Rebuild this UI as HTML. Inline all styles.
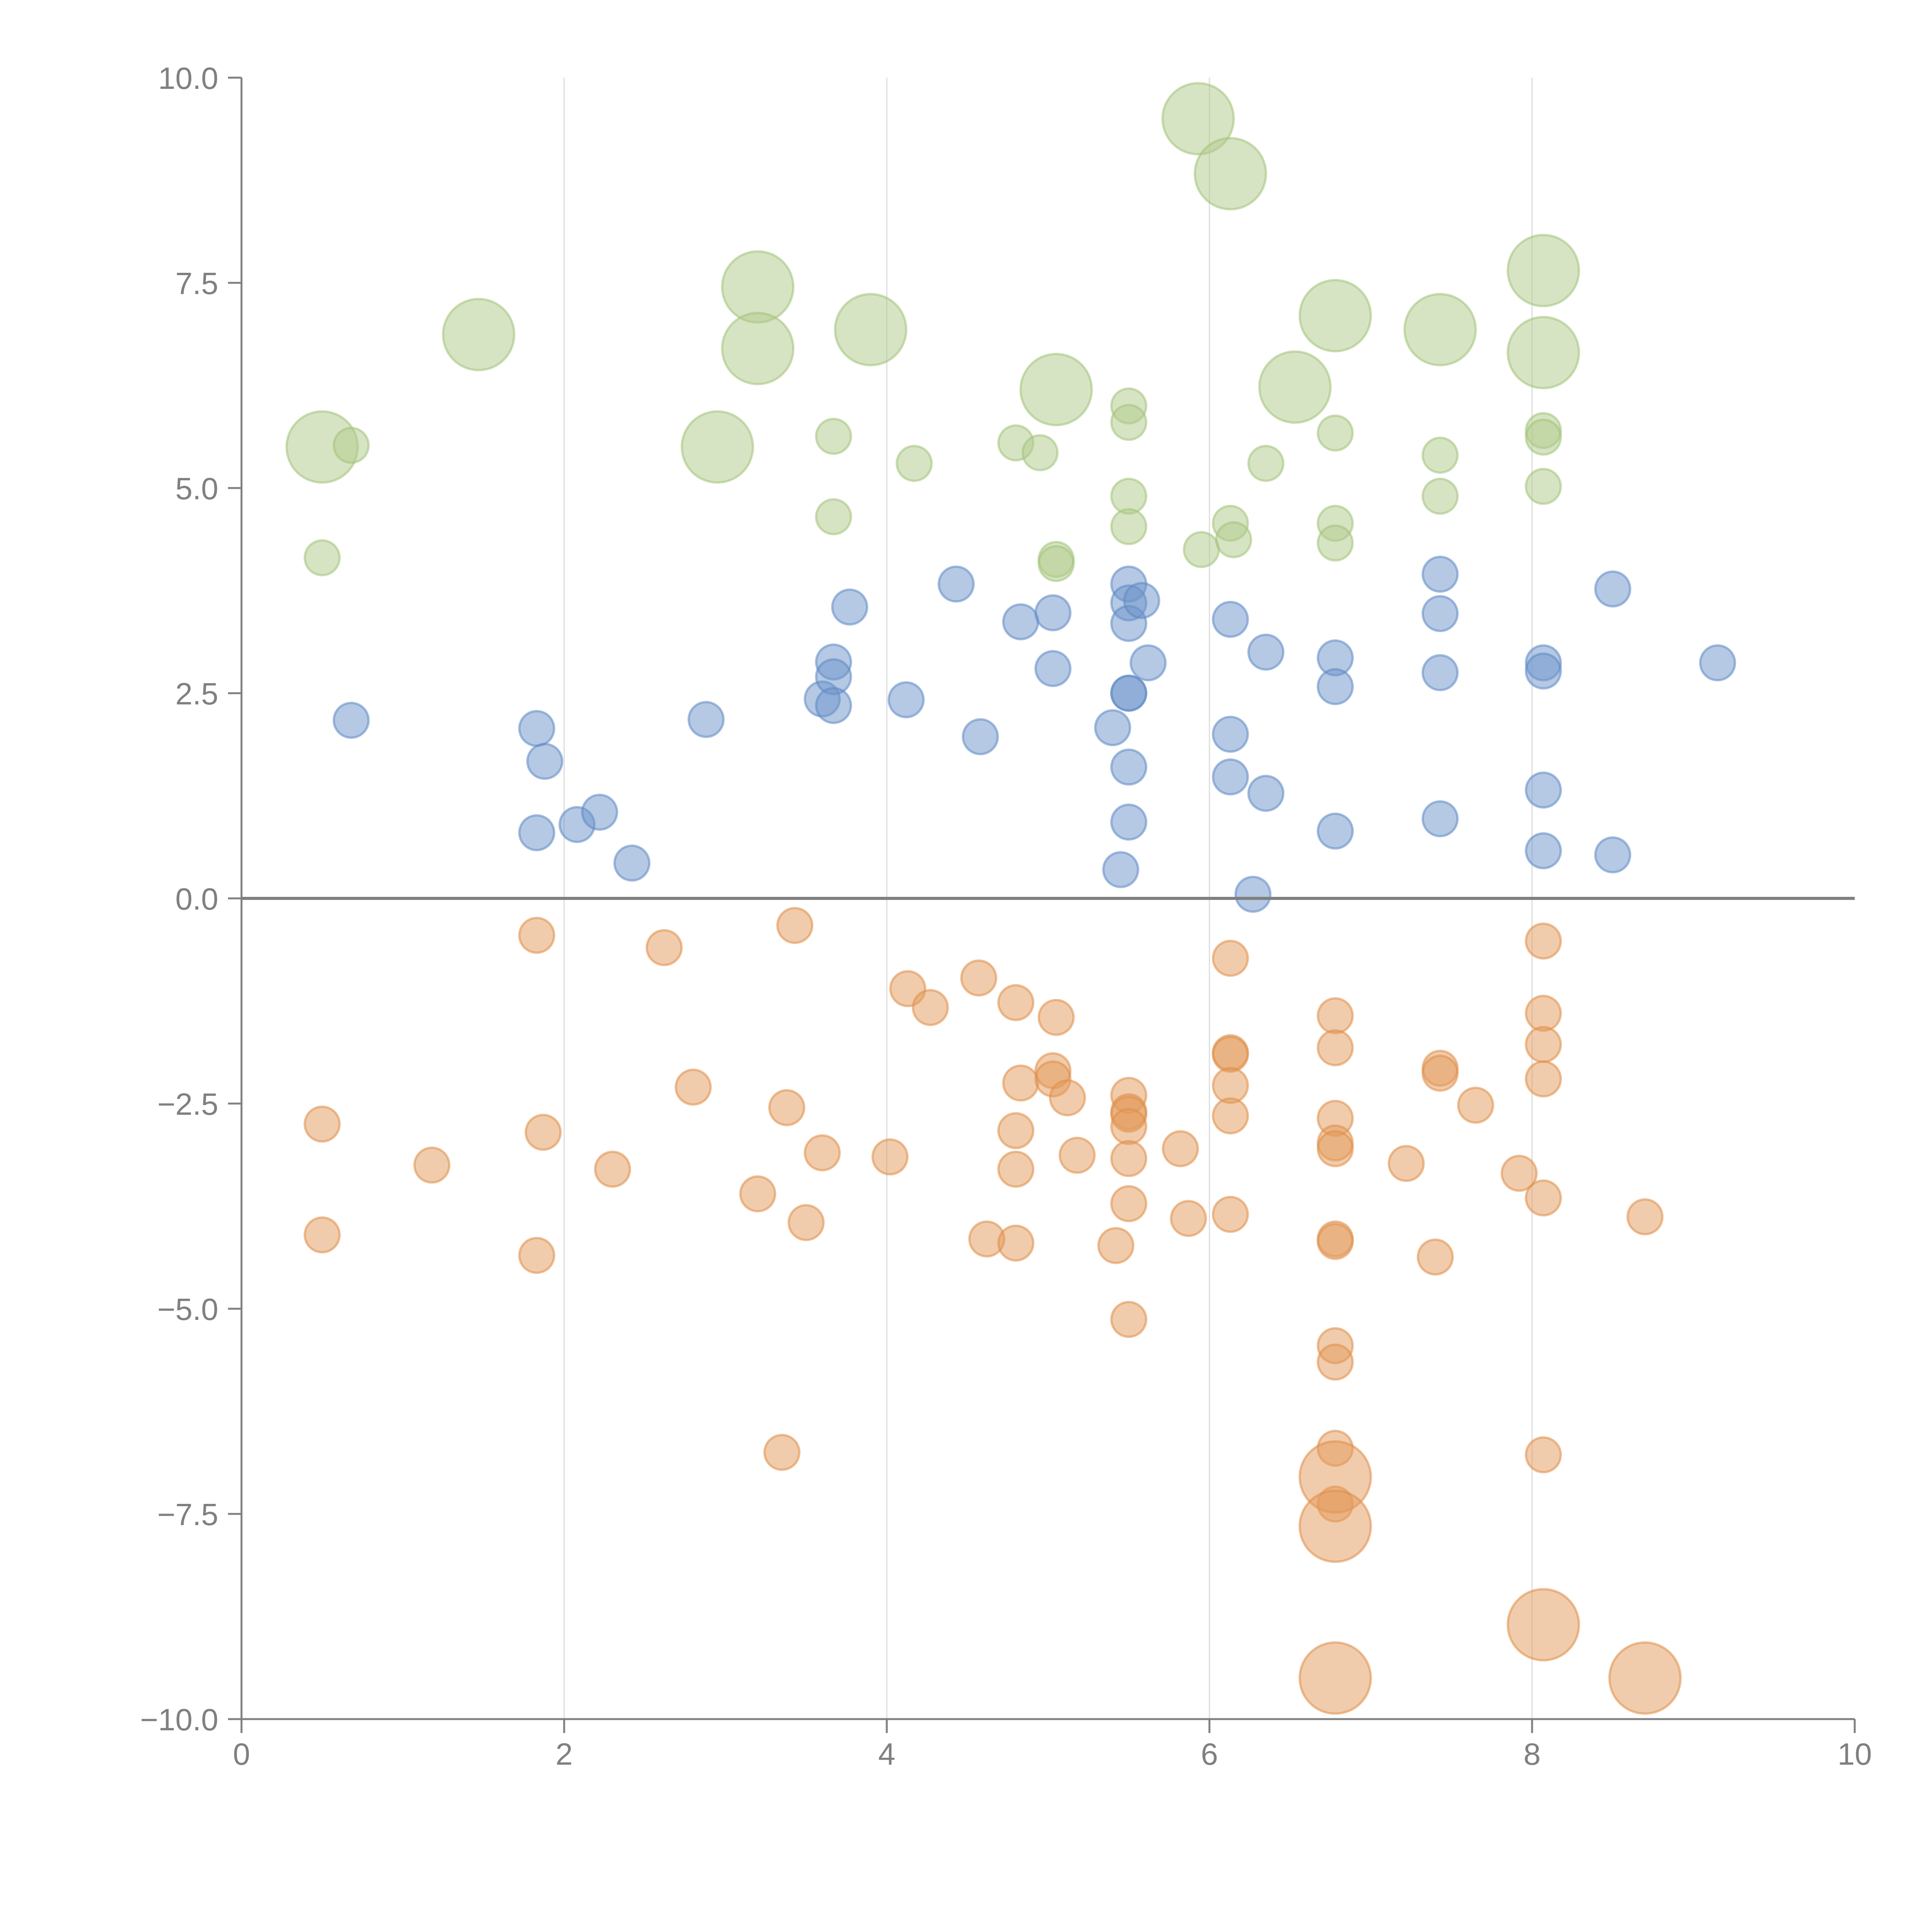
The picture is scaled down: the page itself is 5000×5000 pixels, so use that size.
<!DOCTYPE html>
<html><head><meta charset="utf-8"><style>html,body{margin:0;padding:0;background:#fff}svg{display:block}</style></head>
<body>
<svg id="chart" width="5000" height="5000" viewBox="0 0 5000 5000" xmlns="http://www.w3.org/2000/svg" font-family="Liberation Sans, Arial, sans-serif">
<rect width="5000" height="5000" fill="#fff"/>
<g id="grid"></g>
<g id="marks"></g>
<g id="axes"></g>
</svg>
<script>
const xTicks = [0, 2, 4, 6, 8, 10];
const yTicks = [10, 7.5, 5, 2.5, 0, -2.5, -5, -7.5, -10];
const yTickLabels = ["10.0", "7.5", "5.0", "2.5", "0.0", "\u22122.5", "\u22125.0", "\u22127.5", "\u221210.0"];

const greenBigX = [0.5,1.47,2.95,3.2,3.2,3.9,5.05,5.93,6.13,6.53,6.78,7.43,8.07,8.07];
const greenBigY = [5.5,6.87,5.5,7.45,6.7,6.93,6.2,9.5,8.83,6.23,7.1,6.93,7.65,6.65];
const greenX = [0.5,0.68,3.67,3.67,4.17,4.8,4.95,5.05,5.05,5.5,5.5,5.5,5.5,5.95,6.13,6.15,6.35,6.78,6.78,6.78,7.43,7.43,8.07,8.07,8.07];
const greenY = [4.15,5.52,5.63,4.65,5.3,5.55,5.43,4.13,4.08,6.0,5.8,4.9,4.53,4.25,4.57,4.37,5.3,5.67,4.57,4.33,5.4,4.9,5.7,5.62,5.02];
const blueX = [0.68,1.83,1.88,1.83,2.08,2.22,2.42,2.88,3.6,3.67,3.67,3.67,3.77,4.12,4.43,4.58,4.83,5.03,5.03,5.4,5.45,5.5,5.5,5.5,5.5,5.5,5.5,5.5,5.58,5.62,6.13,6.13,6.13,6.27,6.35,6.35,6.78,6.78,6.78,7.43,7.43,7.43,7.43,8.07,8.07,8.07,8.07,8.5,8.5,9.15];
const blueY = [2.17,2.07,1.67,0.8,0.9,1.05,0.43,2.18,2.43,2.88,2.7,2.35,3.55,2.42,3.83,1.97,3.37,3.48,2.8,2.08,0.35,3.83,3.6,3.35,2.5,2.5,1.6,0.93,3.63,2.87,3.4,2.0,1.48,0.05,3.0,1.28,2.93,2.58,0.82,3.95,3.47,2.75,0.97,2.87,2.77,1.32,0.58,3.77,0.53,2.87];
const orangeX = [0.5,0.5,1.18,1.83,1.87,1.83,2.3,2.62,2.8,3.2,3.38,3.35,3.43,3.5,3.6,4.02,4.13,4.27,4.57,4.62,4.8,4.8,4.8,4.8,4.83,5.03,5.03,5.05,5.12,5.18,5.42,5.5,5.5,5.5,5.5,5.5,5.5,5.5,5.82,5.87,6.13,6.13,6.13,6.13,6.13,6.13,6.78,6.78,6.78,6.78,6.78,6.78,6.78,6.78,6.78,6.78,6.78,7.22,7.43,7.43,7.4,7.65,7.92,8.07,8.07,8.07,8.07,8.07,8.07,8.7];
const orangeY = [-2.75,-4.1,-3.25,-0.45,-2.85,-4.35,-3.3,-0.6,-2.3,-3.6,-2.55,-6.75,-0.33,-3.95,-3.1,-3.15,-1.1,-1.33,-0.97,-4.15,-1.27,-2.83,-3.3,-4.2,-2.25,-2.1,-2.2,-1.45,-2.43,-3.13,-4.23,-2.4,-2.6,-2.63,-2.78,-3.17,-3.72,-5.13,-3.05,-3.9,-0.73,-1.88,-1.9,-2.28,-2.65,-3.85,-1.43,-1.82,-2.68,-2.98,-3.05,-4.15,-4.18,-5.45,-5.65,-6.7,-7.38,-3.23,-2.07,-2.13,-4.37,-2.52,-3.35,-0.52,-1.4,-1.78,-2.2,-3.65,-6.78,-3.88];
const orangeBigX = [6.78,6.78,8.07,6.78,8.7];
const orangeBigY = [-7.05,-7.65,-8.85,-9.5,-9.5];

const X0 = 625, X1 = 4800, Y0 = 4449, Y1 = 201;
function sx(v){ return X0 + (v - 0) / 10 * (X1 - X0); }
function sy(v){ return Y0 - (v + 10) / 20 * (Y0 - Y1); }
const NS = "http://www.w3.org/2000/svg";
function mk(tag, attrs, parent){
  const e = document.createElementNS(NS, tag);
  for (const k in attrs) e.setAttribute(k, attrs[k]);
  parent.appendChild(e);
  return e;
}
const grid = document.getElementById('grid');
const marks = document.getElementById('marks');
const axes = document.getElementById('axes');

// vertical gridlines
xTicks.forEach(function(t){
  if (t === 0 || t === 10) return;
  const l = mk('line', {x1: sx(t), x2: sx(t), y1: Y1, y2: Y0, stroke: '#dcdcdc', 'stroke-width': 3}, grid);
  
  
});

function drawSeries(xs, ys, r, fill, stroke, name){
  xs.forEach(function(x, i){
    const c = mk('circle', {cx: sx(x), cy: sy(ys[i]), r: r, fill: fill, 'fill-opacity': 0.5, stroke: stroke, 'stroke-opacity': 0.55, 'stroke-width': 6}, marks);
    
    
  });
}
drawSeries(greenBigX, greenBigY, 92, '#afc98a', '#a3c27a', 'green-bubble-large');
drawSeries(greenX, greenY, 45, '#afc98a', '#a3c27a', 'green-bubble');
drawSeries(blueX, blueY, 45, '#6b93ca', '#5f89c4', 'blue-bubble');
drawSeries(orangeX, orangeY, 45, '#e39a5a', '#de8e48', 'orange-bubble');
drawSeries(orangeBigX, orangeBigY, 92, '#e39a5a', '#de8e48', 'orange-bubble-large');

// zero line
const z = mk('line', {x1: sx(0), x2: sx(10), y1: sy(0), y2: sy(0), stroke: '#808080', 'stroke-width': 8}, axes);



// y axis
const ya = mk('line', {x1: X0, x2: X0, y1: Y1, y2: Y0, stroke: '#808080', 'stroke-width': 5}, axes);


yTicks.forEach(function(t, i){
  const tk = mk('line', {x1: 590, x2: X0, y1: sy(t), y2: sy(t), stroke: '#808080', 'stroke-width': 5}, axes);
  
  
  const tx = mk('text', {x: 565, y: sy(t) + 29, 'text-anchor': 'end', 'font-size': 80, fill: '#808080'}, axes);
  tx.textContent = yTickLabels[i];
  
  
});

// x axis
const xa = mk('line', {x1: X0, x2: X1, y1: Y0, y2: Y0, stroke: '#808080', 'stroke-width': 5}, axes);


xTicks.forEach(function(t){
  const tk = mk('line', {x1: sx(t), x2: sx(t), y1: Y0, y2: 4485, stroke: '#808080', 'stroke-width': 5}, axes);
  
  
  const tx = mk('text', {x: sx(t), y: 4567, 'text-anchor': 'middle', 'font-size': 80, fill: '#808080'}, axes);
  tx.textContent = String(t);
  
  
});
</script>
</body></html>
